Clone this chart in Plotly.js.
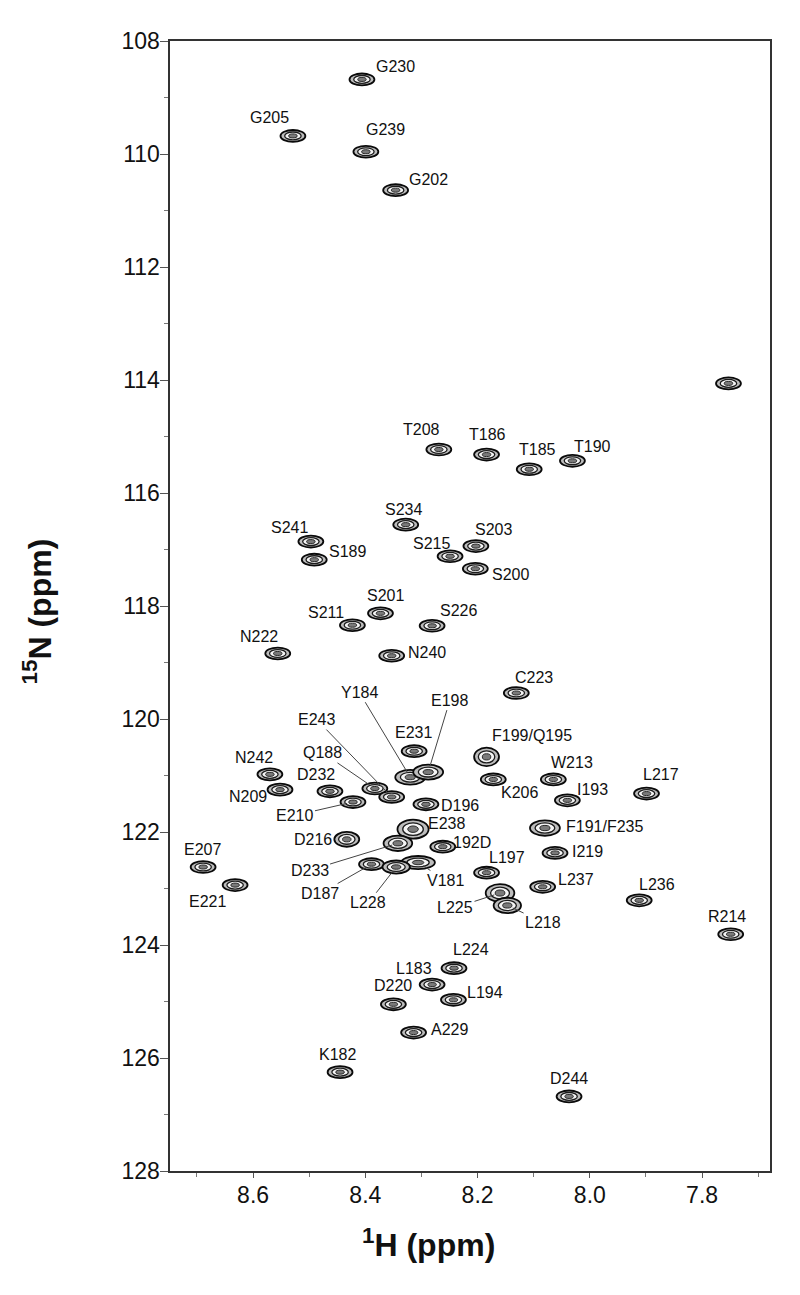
<!DOCTYPE html>
<html><head><meta charset="utf-8">
<script src="https://cdn.plot.ly/plotly-3.0.1.min.js"></script>
<style>html,body{margin:0;padding:0;background:#fff}#chart{width:800px;height:1295px}</style>
</head><body><div id="chart"></div>
<script>
// ---- data: assigned 1H-15N HSQC cross peaks ----
const residues = ["G230","G205","G239","G202","","T208","T186","T185","T190","S234","S241","S189","S203","S215","S200","S201","S211","S226","N222","N240","C223","E231","F199/Q195","Y184","E198","N242","K206","W213","Q188","N209","D232","L217","E243","I193","E210","D196","F191/F235","E238","D216","D233","192D","I219","D187","V181","L228","E207","L197","E221","L237","L225","L218","L236","R214","L224","L183","L194","D220","A229","K182","D244"];
const protonPPM = [8.406,8.529,8.399,8.346,7.753,8.269,8.184,8.108,8.031,8.328,8.497,8.491,8.203,8.249,8.204,8.373,8.423,8.281,8.556,8.353,8.131,8.313,8.184,8.320,8.288,8.570,8.172,8.065,8.383,8.552,8.463,7.899,8.353,8.040,8.422,8.292,8.080,8.315,8.433,8.342,8.262,8.062,8.389,8.306,8.345,8.689,8.184,8.632,8.084,8.160,8.147,7.912,7.749,8.242,8.281,8.243,8.350,8.314,8.445,8.037];
const nitrogenPPM = [108.68,109.68,109.96,110.64,114.06,115.23,115.32,115.58,115.43,116.56,116.86,117.18,116.94,117.12,117.34,118.13,118.34,118.35,118.84,118.88,119.54,120.57,120.67,121.03,120.94,120.98,121.07,121.07,121.23,121.25,121.28,121.32,121.38,121.44,121.47,121.51,121.93,121.95,122.13,122.20,122.26,122.37,122.57,122.54,122.62,122.62,122.72,122.94,122.97,123.08,123.30,123.21,123.81,124.41,124.70,124.97,125.05,125.55,126.25,126.68];
const xTickLabels = ["8.6","8.4","8.2","8.0","7.8"];
const yTickLabels = ["108","110","112","114","116","118","120","122","124","126","128"];

// ---- layout only: label offsets (px) and drawn contour size factors per peak ----
const labelDx = [34,-23.5,19.3,32.6,0,-17.5,1,8,20.5,-2.4,-21,33,18,-19,34.7,5,-26.6,26,-19,35.3,17.3,-0.5,45,-51,21.7,-16,26.7,18.7,-52,-32.5,-14,14.6,-75,25,-58,34,59.7,33.3,-34.2,-88.3,29,32.8,-51.4,27.8,-27.7,-0.6,20.3,-27.8,33.6,-45,35.8,18.2,-3.7,16.5,-17.8,31.7,0,36,-3,0];
const labelDy = [-12.6,-18,-22.4,-10.7,0,-20,-20,-20,-14.7,-15,-14,-8,-16.4,-12.7,5.7,-18,-12.3,-15.3,-16.6,-3.4,-15.3,-19,-21.7,-85,-72,-16.6,12.7,-16.6,-35.6,6.4,-16.7,-19,-77.4,-11,13.3,1,-1.7,-5.7,0,27,-4,-1,29.3,18,35.7,-17.4,-15,16.7,-7.4,14.7,16.7,-15.7,-17.3,-18.4,-15.7,-7.6,-19,-3,-18,-18];
const withLeader = ["Y184","E198","E243","Q188","E210","D233","D187","V181","L228","L225","L218"];
const sizeX = {"F199/Q195":1.0,"E238":1.25,"D233":1.15,"V181":1.35,"L228":1.1,"L225":1.15,"L218":1.1,"Y184":1.2,"E198":1.2,"F191/F235":1.2,"D216":1.0};
const sizeY = {"F199/Q195":1.55,"E238":1.6,"D233":1.3,"V181":1.1,"L228":1.1,"L225":1.5,"L218":1.3,"Y184":1.25,"E198":1.25,"F191/F235":1.3,"D216":1.25};

const FONT = "Liberation Sans, Arial, Helvetica, sans-serif";
const halfW = 0.0222, halfH = 0.105;          // base peak contour half-size (ppm)
const rings = [
  {s:1.00, w:1.8, c:"#0a0a0a", f:"#bdbdbd"},
  {s:0.66, w:1.3, c:"#1a1a1a", f:"#f4f4f4"},
  {s:0.34, w:1.0, c:"#2a2a2a", f:"#7a7a7a"}
];

const shapes = [];
protonPPM.forEach((h, i) => {
  const n = nitrogenPPM[i];
  const fx = sizeX[residues[i]] || 1, fy = sizeY[residues[i]] || 1;
  rings.forEach(r => shapes.push({
    type:"circle", xref:"x", yref:"y", layer:"above",
    x0:h - halfW*fx*r.s, x1:h + halfW*fx*r.s, y0:n - halfH*fy*r.s, y1:n + halfH*fy*r.s,
    line:{color:r.c, width:r.w}, fillcolor:r.f
  }));
});

const annotations = [];
residues.forEach((lab, i) => {
  if (!lab) return;
  const base = {x:protonPPM[i], y:nitrogenPPM[i], xref:"x", yref:"y", text:lab,
    font:{family:FONT, size:16, color:"#111"}};
  if (withLeader.includes(lab)) {
    annotations.push(Object.assign(base, {showarrow:true, arrowhead:0, arrowwidth:1,
      arrowcolor:"#444", ax:labelDx[i], ay:labelDy[i], standoff:6}));
  } else {
    annotations.push(Object.assign(base, {showarrow:false, xshift:labelDx[i], yshift:-labelDy[i]}));
  }
});
// axis titles (placed as in the figure, slightly left of the plot centre)
annotations.push({xref:"paper", yref:"paper", x:0.43, y:-0.064, xanchor:"center", yanchor:"middle",
  showarrow:false, text:"<sup>1</sup>H (ppm)", font:{family:FONT, size:32, color:"#111", weight:"bold"}});
annotations.push({xref:"paper", yref:"paper", x:-0.222, y:0.495, xanchor:"center", yanchor:"middle",
  showarrow:false, textangle:-90, text:"<sup>15</sup>N (ppm)", font:{family:FONT, size:32, color:"#111", weight:"bold"}});

const trace = {
  type:"scatter", mode:"markers", x:protonPPM, y:nitrogenPPM, text:residues,
  hoverinfo:"text+x+y", marker:{size:2, color:"#000"}, showlegend:false
};

const layout = {
  width:800, height:1295, paper_bgcolor:"#fff", plot_bgcolor:"#fff",
  margin:{l:170, r:30, t:41, b:124},
  font:{family:FONT, color:"#111"},
  xaxis:{
    range:[8.748, 7.679], tickmode:"array",
    tickvals:xTickLabels.map(Number), ticktext:xTickLabels,
    ticks:"outside", ticklen:5, tickwidth:1, tickcolor:"#555",
    minor:{dtick:0.1, tick0:7.8, ticks:"outside", ticklen:4, tickcolor:"#777"},
    showline:true, mirror:true, linecolor:"#333", linewidth:1.6,
    showgrid:false, zeroline:false, ticklabelstandoff:-2,
    tickfont:{family:FONT, size:23, color:"#111"}
  },
  yaxis:{
    range:[128, 108], tickmode:"array",
    tickvals:yTickLabels.map(Number), ticktext:yTickLabels,
    ticks:"outside", ticklen:8, tickwidth:1, tickcolor:"#555",
    minor:{dtick:1, tick0:108, ticks:"outside", ticklen:4, tickcolor:"#777"},
    showline:true, mirror:true, linecolor:"#333", linewidth:1.6,
    showgrid:false, zeroline:false, ticklabelstandoff:-4,
    tickfont:{family:FONT, size:23, color:"#111"}
  },
  shapes:shapes, annotations:annotations, showlegend:false
};

Plotly.newPlot("chart", [trace], layout, {displayModeBar:false, staticPlot:true});
</script></body></html>
